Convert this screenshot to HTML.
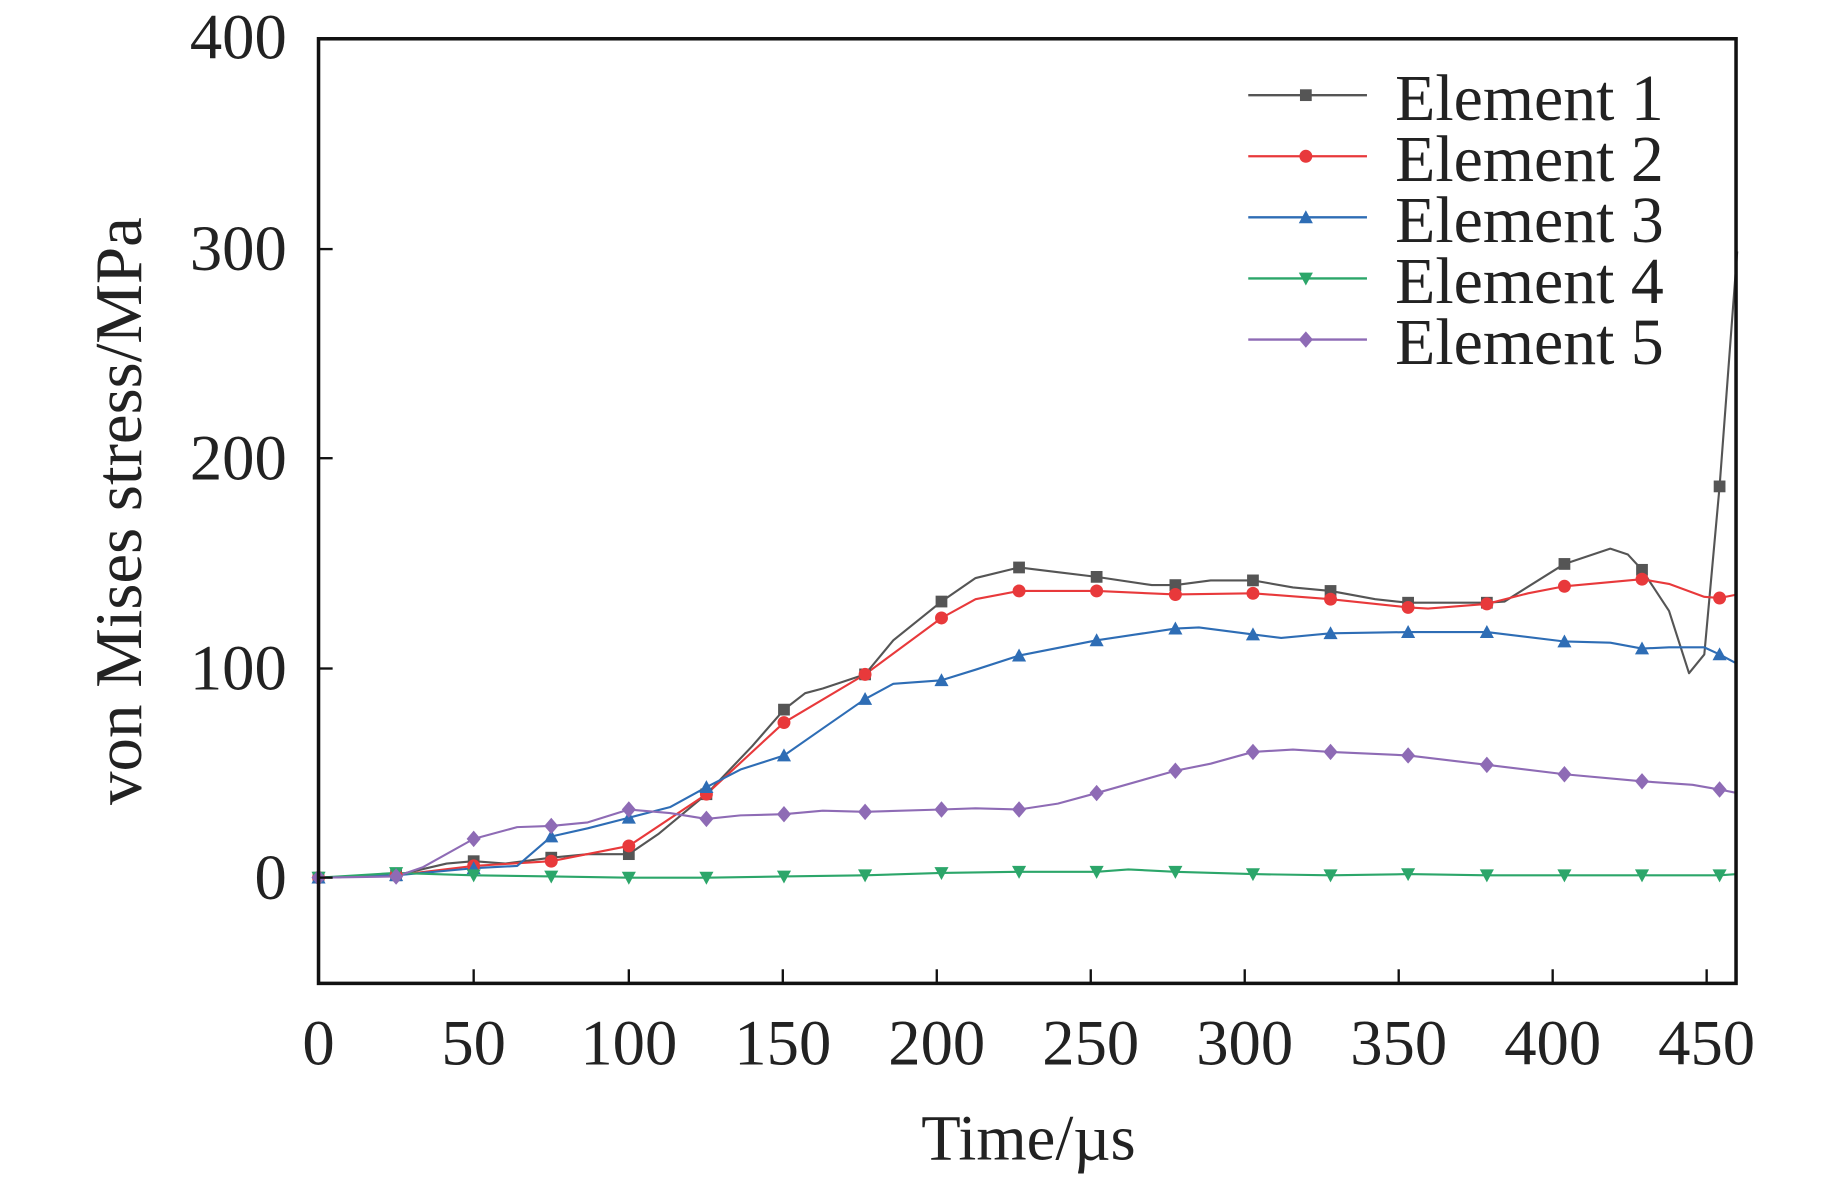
<!DOCTYPE html>
<html><head><meta charset="utf-8"><style>html,body{margin:0;padding:0;background:#fff}svg{display:block}</style></head>
<body>
<svg width="1843" height="1179" viewBox="0 0 1568 1003.5" preserveAspectRatio="none" xmlns="http://www.w3.org/2000/svg" font-family="Liberation Serif, serif" fill="#222">
<defs>
<rect id="sq" x="-5" y="-5" width="10" height="10" fill="#555"/>
<circle id="ci" r="5.5" fill="#e8393b"/>
<path id="tu" d="M0,-6 L6,5 L-6,5 Z" fill="#2e6db5"/>
<path id="td" d="M0,6 L6,-5 L-6,-5 Z" fill="#2ca66a"/>
<path id="di" d="M0,-7 L6,0 L0,7 L-6,0 Z" fill="#8e6bb5"/>
</defs>
<g fill="none" stroke-width="1.8" stroke-linejoin="round">
<polyline stroke="#555" points="271,747 337,745 380,735 403,733 430,735 469,730 500,727 535,727 560,710 601,676 640,635 667,604 685,590 700,586 736,574 760,545 801,512 830,492 867,483 900,487 933,491 980,498 1000,498 1030,494 1066,494 1100,500 1132,503 1170,510 1198,513 1265,513 1280,512 1331,480 1370,467 1385,472 1397,485 1420,520 1437,573 1450,557 1463,414 1478,214"/>
<polyline stroke="#e8393b" points="271,747 337,745 403,737 469,733 535,720 601,676 667,615 736,574 801,526 830,510 867,503 933,503 1000,506 1066,505 1132,510 1198,517 1215,518 1265,514 1300,505 1331,499 1397,493 1420,497 1450,508 1463,509 1478,506"/>
<polyline stroke="#2e6db5" points="271,747 337,745 403,739 440,737 469,712 500,705 535,696 570,687 601,670 630,655 667,643 700,620 736,595 760,582 801,579 830,570 867,558 933,545 1000,535 1020,534 1066,540 1090,543 1132,539 1198,538 1265,538 1331,546 1370,547 1397,552 1420,551 1450,551 1463,557 1478,565"/>
<polyline stroke="#2ca66a" points="271,747 337,743 403,745 469,746 535,747 601,747 667,746 736,745 801,743 867,742 933,742 960,740 1000,742 1066,744 1132,745 1198,744 1265,745 1331,745 1397,745 1463,745 1478,744"/>
<polyline stroke="#8e6bb5" points="271,747 337,746 360,738 403,714 440,704 469,703 500,700 535,689 570,692 601,697 630,694 667,693 700,690 736,691 801,689 830,688 867,689 900,684 933,675 1000,656 1030,650 1066,640 1100,638 1132,640 1198,643 1265,651 1331,659 1397,665 1440,668 1463,672 1478,675"/>
</g>
<g>
<use href="#sq" x="271" y="747"/><use href="#sq" x="337" y="745"/><use href="#sq" x="403" y="733"/><use href="#sq" x="469" y="730"/><use href="#sq" x="535" y="727"/><use href="#sq" x="601" y="676"/><use href="#sq" x="667" y="604"/><use href="#sq" x="736" y="574"/><use href="#sq" x="801" y="512"/><use href="#sq" x="867" y="483"/><use href="#sq" x="933" y="491"/><use href="#sq" x="1000" y="498"/><use href="#sq" x="1066" y="494"/><use href="#sq" x="1132" y="503"/><use href="#sq" x="1198" y="513"/><use href="#sq" x="1265" y="513"/><use href="#sq" x="1331" y="480"/><use href="#sq" x="1397" y="485"/><use href="#sq" x="1463" y="414"/>
<use href="#ci" x="271" y="747"/><use href="#ci" x="337" y="745"/><use href="#ci" x="403" y="737"/><use href="#ci" x="469" y="733"/><use href="#ci" x="535" y="720"/><use href="#ci" x="601" y="676"/><use href="#ci" x="667" y="615"/><use href="#ci" x="736" y="574"/><use href="#ci" x="801" y="526"/><use href="#ci" x="867" y="503"/><use href="#ci" x="933" y="503"/><use href="#ci" x="1000" y="506"/><use href="#ci" x="1066" y="505"/><use href="#ci" x="1132" y="510"/><use href="#ci" x="1198" y="517"/><use href="#ci" x="1265" y="514"/><use href="#ci" x="1331" y="499"/><use href="#ci" x="1397" y="493"/><use href="#ci" x="1463" y="509"/>
<use href="#tu" x="271" y="747"/><use href="#tu" x="337" y="745"/><use href="#tu" x="403" y="739"/><use href="#tu" x="469" y="712"/><use href="#tu" x="535" y="696"/><use href="#tu" x="601" y="670"/><use href="#tu" x="667" y="643"/><use href="#tu" x="736" y="595"/><use href="#tu" x="801" y="579"/><use href="#tu" x="867" y="558"/><use href="#tu" x="933" y="545"/><use href="#tu" x="1000" y="535"/><use href="#tu" x="1066" y="540"/><use href="#tu" x="1132" y="539"/><use href="#tu" x="1198" y="538"/><use href="#tu" x="1265" y="538"/><use href="#tu" x="1331" y="546"/><use href="#tu" x="1397" y="552"/><use href="#tu" x="1463" y="557"/>
<use href="#td" x="271" y="747"/><use href="#td" x="337" y="743"/><use href="#td" x="403" y="745"/><use href="#td" x="469" y="746"/><use href="#td" x="535" y="747"/><use href="#td" x="601" y="747"/><use href="#td" x="667" y="746"/><use href="#td" x="736" y="745"/><use href="#td" x="801" y="743"/><use href="#td" x="867" y="742"/><use href="#td" x="933" y="742"/><use href="#td" x="1000" y="742"/><use href="#td" x="1066" y="744"/><use href="#td" x="1132" y="745"/><use href="#td" x="1198" y="744"/><use href="#td" x="1265" y="745"/><use href="#td" x="1331" y="745"/><use href="#td" x="1397" y="745"/><use href="#td" x="1463" y="745"/>
<use href="#di" x="271" y="747"/><use href="#di" x="337" y="746"/><use href="#di" x="403" y="714"/><use href="#di" x="469" y="703"/><use href="#di" x="535" y="689"/><use href="#di" x="601" y="697"/><use href="#di" x="667" y="693"/><use href="#di" x="736" y="691"/><use href="#di" x="801" y="689"/><use href="#di" x="867" y="689"/><use href="#di" x="933" y="675"/><use href="#di" x="1000" y="656"/><use href="#di" x="1066" y="640"/><use href="#di" x="1132" y="640"/><use href="#di" x="1198" y="643"/><use href="#di" x="1265" y="651"/><use href="#di" x="1331" y="659"/><use href="#di" x="1397" y="665"/><use href="#di" x="1463" y="672"/>
</g>
<rect x="271" y="33" width="1206" height="804" fill="none" stroke="#111" stroke-width="3"/>
<g stroke="#111" stroke-width="2">
<line x1="403" y1="837" x2="403" y2="825"/><line x1="535" y1="837" x2="535" y2="825"/><line x1="666" y1="837" x2="666" y2="825"/><line x1="797" y1="837" x2="797" y2="825"/><line x1="928" y1="837" x2="928" y2="825"/><line x1="1059" y1="837" x2="1059" y2="825"/><line x1="1190" y1="837" x2="1190" y2="825"/><line x1="1321" y1="837" x2="1321" y2="825"/><line x1="1452" y1="837" x2="1452" y2="825"/>
<line x1="271" y1="212" x2="283" y2="212"/><line x1="271" y1="390" x2="283" y2="390"/><line x1="271" y1="569" x2="283" y2="569"/><line x1="271" y1="747" x2="283" y2="747"/>
</g>
<g font-size="55" text-anchor="end">
<text x="244" y="50">400</text><text x="244" y="230">300</text><text x="244" y="408">200</text><text x="244" y="587">100</text><text x="244" y="765">0</text>
</g>
<g font-size="55" text-anchor="middle">
<text x="271" y="906">0</text><text x="403" y="906">50</text><text x="535" y="906">100</text><text x="666" y="906">150</text><text x="797" y="906">200</text><text x="928" y="906">250</text><text x="1059" y="906">300</text><text x="1190" y="906">350</text><text x="1321" y="906">400</text><text x="1452" y="906">450</text>
<text x="875" y="987">Time/µs</text>
<text font-size="57" transform="translate(120,435) rotate(-90)">von Mises stress/MPa</text>
</g>
<g stroke-width="2">
<line x1="1062" y1="81" x2="1163" y2="81" stroke="#555"/><use href="#sq" x="1111" y="81"/>
<line x1="1062" y1="133" x2="1163" y2="133" stroke="#e8393b"/><use href="#ci" x="1111" y="133"/>
<line x1="1062" y1="185" x2="1163" y2="185" stroke="#2e6db5"/><use href="#tu" x="1111" y="185"/>
<line x1="1062" y1="237" x2="1163" y2="237" stroke="#2ca66a"/><use href="#td" x="1111" y="237"/>
<line x1="1062" y1="289" x2="1163" y2="289" stroke="#8e6bb5"/><use href="#di" x="1111" y="289"/>
</g>
<g font-size="56">
<text x="1187" y="102">Element 1</text><text x="1187" y="154">Element 2</text><text x="1187" y="206">Element 3</text><text x="1187" y="258">Element 4</text><text x="1187" y="310">Element 5</text>
</g>
</svg>
</body></html>
